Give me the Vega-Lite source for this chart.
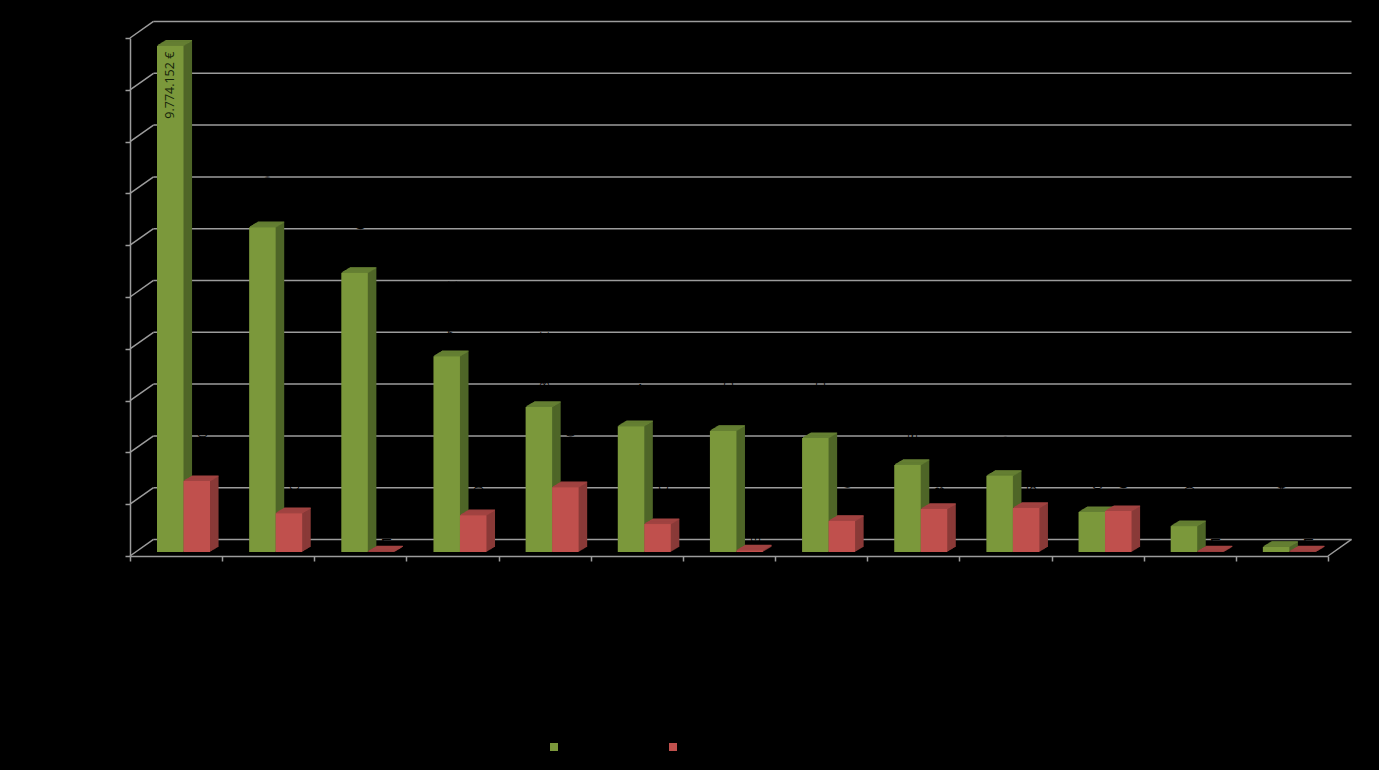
{
"$schema":"https://vega.github.io/schema/vega-lite/v6.json",
"width":1198,"height":518,
"autosize":{"type":"none"},
"padding":{"left":130,"top":38,"right":51,"bottom":214},
"background":"#000000",
"view":{"stroke":null},
"datasets":{
"bars":[
{"cat":1,"series":"Serie 1","value":9774152,"label":"9.774.152 €"},
{"cat":1,"series":"Serie 2","value":1370000,"label":"1.370.000 €"},
{"cat":2,"series":"Serie 1","value":6270000,"label":"6.270.000 €"},
{"cat":2,"series":"Serie 2","value":750000,"label":"750.000 €"},
{"cat":3,"series":"Serie 1","value":5390000,"label":"5.390.000 €"},
{"cat":3,"series":"Serie 2","value":10000,"label":"10.000 €"},
{"cat":4,"series":"Serie 1","value":3780000,"label":"3.780.000 €"},
{"cat":4,"series":"Serie 2","value":710000,"label":"710.000 €"},
{"cat":5,"series":"Serie 1","value":2800000,"label":"2.800.000 €"},
{"cat":5,"series":"Serie 2","value":1250000,"label":"1.250.000 €"},
{"cat":6,"series":"Serie 1","value":2430000,"label":"2.430.000 €"},
{"cat":6,"series":"Serie 2","value":540000,"label":"540.000 €"},
{"cat":7,"series":"Serie 1","value":2340000,"label":"2.340.000 €"},
{"cat":7,"series":"Serie 2","value":30000,"label":"30.000 €"},
{"cat":8,"series":"Serie 1","value":2200000,"label":"2.200.000 €"},
{"cat":8,"series":"Serie 2","value":600000,"label":"600.000 €"},
{"cat":9,"series":"Serie 1","value":1680000,"label":"1.680.000 €"},
{"cat":9,"series":"Serie 2","value":830000,"label":"830.000 €"},
{"cat":10,"series":"Serie 1","value":1470000,"label":"1.470.000 €"},
{"cat":10,"series":"Serie 2","value":850000,"label":"850.000 €"},
{"cat":11,"series":"Serie 1","value":770000,"label":"770.000 €"},
{"cat":11,"series":"Serie 2","value":790000,"label":"790.000 €"},
{"cat":12,"series":"Serie 1","value":500000,"label":"500.000 €"},
{"cat":12,"series":"Serie 2","value":10000,"label":"10.000 €"},
{"cat":13,"series":"Serie 1","value":100000,"label":"100.000 €"},
{"cat":13,"series":"Serie 2","value":10000,"label":"10.000 €"}
],
"ticks":[{"tick":0},{"tick":1000000},{"tick":2000000},{"tick":3000000},{"tick":4000000},{"tick":5000000},{"tick":6000000},{"tick":7000000},{"tick":8000000},{"tick":9000000},{"tick":10000000}]
},
"layer":[
{"data":{"name":"ticks"},"transform":[{"calculate":"datum.tick+319000","as":"back"},{"calculate":"0.255","as":"d"},{"calculate":"0","as":"z"}],
 "mark":{"type":"rule","color":"#9c9c9c","strokeWidth":1.5},
 "encoding":{"x":{"field":"z","type":"quantitative","scale":{"domain":[0,13],"nice":false},"axis":{"values":[0,1,2,3,4,5,6,7,8,9,10,11,12,13],"labels":false,"title":null,"orient":"bottom","grid":false,"tickSize":5,"domainColor":"#9c9c9c","tickColor":"#9c9c9c","domainWidth":1.5,"tickWidth":1.5}},"x2":{"field":"d"},"y":{"field":"tick","type":"quantitative","scale":{"domain":[0,10000000],"nice":false},"axis":{"values":[0,1000000,2000000,3000000,4000000,5000000,6000000,7000000,8000000,9000000,10000000],"grid":false,"labels":false,"title":null,"domainColor":"#9c9c9c","tickColor":"#9c9c9c","tickSize":5,"domainWidth":1.5,"tickWidth":1.5}},"y2":{"field":"back"}}},
{"data":{"name":"ticks"},"transform":[{"calculate":"datum.tick+319000","as":"back"},{"calculate":"0.255","as":"d"},{"calculate":"13.255","as":"e"}],
 "mark":{"type":"rule","color":"#9c9c9c","strokeWidth":1.5},
 "encoding":{"x":{"field":"d","type":"quantitative"},"x2":{"field":"e"},"y":{"field":"back","type":"quantitative"}}},
{"data":{"values":[{"a":13,"b":13.255,"c":0,"f":319000}]},
 "mark":{"type":"rule","color":"#9c9c9c","strokeWidth":1.5},
 "encoding":{"x":{"field":"a","type":"quantitative"},"x2":{"field":"b"},"y":{"field":"c","type":"quantitative"},"y2":{"field":"f"}}},
{"data":{"name":"bars"},
 "transform":[{"calculate":"datum.cat-1+0.293+(datum.series==='Serie 1'?0:0.2876)","as":"left"},{"calculate":"datum.left+0.2876","as":"right"},{"calculate":"datum.left+0.1438","as":"mid"}],
 "encoding":{"x":{"field":"left","type":"quantitative"},"x2":{"field":"right"},"y":{"field":"value","type":"quantitative"}},
 "layer":[
{"transform":[{"filter":"datum.label!=='9.774.152 €'"}],"mark":{"type":"text","angle":270,"align":"left","baseline":"middle","font":"Open Sans","fontSize":12.5,"color":"#000000","xOffset":6,"yOffset":-12},"encoding":{"x":{"field":"mid","type":"quantitative"},"x2":null,"text":{"field":"label"}}},
{"mark":{"type":"rect","xOffset":8.55,"x2Offset":8.55,"yOffset":-9.04,"y2Offset":-9.04},"encoding":{"y2":{"datum":0},"fill":{"condition":{"test":"datum.series==='Serie 1'","value":"#4f6628"},"value":"#8a3a38"}}},
{"mark":{"type":"rect","xOffset":8.55,"x2Offset":8.55,"yOffset":-9.04,"y2Offset":-9.04,"strokeWidth":1.2},"encoding":{"y2":{"field":"value"},"stroke":{"condition":{"test":"datum.series==='Serie 1'","value":"#647f33"},"value":"#a14341"}}},
{"mark":{"type":"rect","xOffset":7.6,"x2Offset":7.6,"yOffset":-8.48,"y2Offset":-8.48},"encoding":{"y2":{"datum":0},"fill":{"condition":{"test":"datum.series==='Serie 1'","value":"#4f6628"},"value":"#8a3a38"}}},
{"mark":{"type":"rect","xOffset":7.6,"x2Offset":7.6,"yOffset":-8.48,"y2Offset":-8.48,"strokeWidth":1.2},"encoding":{"y2":{"field":"value"},"stroke":{"condition":{"test":"datum.series==='Serie 1'","value":"#647f33"},"value":"#a14341"}}},
{"mark":{"type":"rect","xOffset":6.65,"x2Offset":6.65,"yOffset":-7.92,"y2Offset":-7.92},"encoding":{"y2":{"datum":0},"fill":{"condition":{"test":"datum.series==='Serie 1'","value":"#4f6628"},"value":"#8a3a38"}}},
{"mark":{"type":"rect","xOffset":6.65,"x2Offset":6.65,"yOffset":-7.92,"y2Offset":-7.92,"strokeWidth":1.2},"encoding":{"y2":{"field":"value"},"stroke":{"condition":{"test":"datum.series==='Serie 1'","value":"#647f33"},"value":"#a14341"}}},
{"mark":{"type":"rect","xOffset":5.7,"x2Offset":5.7,"yOffset":-7.36,"y2Offset":-7.36},"encoding":{"y2":{"datum":0},"fill":{"condition":{"test":"datum.series==='Serie 1'","value":"#4f6628"},"value":"#8a3a38"}}},
{"mark":{"type":"rect","xOffset":5.7,"x2Offset":5.7,"yOffset":-7.36,"y2Offset":-7.36,"strokeWidth":1.2},"encoding":{"y2":{"field":"value"},"stroke":{"condition":{"test":"datum.series==='Serie 1'","value":"#647f33"},"value":"#a14341"}}},
{"mark":{"type":"rect","xOffset":4.75,"x2Offset":4.75,"yOffset":-6.8,"y2Offset":-6.8},"encoding":{"y2":{"datum":0},"fill":{"condition":{"test":"datum.series==='Serie 1'","value":"#4f6628"},"value":"#8a3a38"}}},
{"mark":{"type":"rect","xOffset":4.75,"x2Offset":4.75,"yOffset":-6.8,"y2Offset":-6.8,"strokeWidth":1.2},"encoding":{"y2":{"field":"value"},"stroke":{"condition":{"test":"datum.series==='Serie 1'","value":"#647f33"},"value":"#a14341"}}},
{"mark":{"type":"rect","xOffset":3.8,"x2Offset":3.8,"yOffset":-6.24,"y2Offset":-6.24},"encoding":{"y2":{"datum":0},"fill":{"condition":{"test":"datum.series==='Serie 1'","value":"#4f6628"},"value":"#8a3a38"}}},
{"mark":{"type":"rect","xOffset":3.8,"x2Offset":3.8,"yOffset":-6.24,"y2Offset":-6.24,"strokeWidth":1.2},"encoding":{"y2":{"field":"value"},"stroke":{"condition":{"test":"datum.series==='Serie 1'","value":"#647f33"},"value":"#a14341"}}},
{"mark":{"type":"rect","xOffset":2.85,"x2Offset":2.85,"yOffset":-5.68,"y2Offset":-5.68},"encoding":{"y2":{"datum":0},"fill":{"condition":{"test":"datum.series==='Serie 1'","value":"#4f6628"},"value":"#8a3a38"}}},
{"mark":{"type":"rect","xOffset":2.85,"x2Offset":2.85,"yOffset":-5.68,"y2Offset":-5.68,"strokeWidth":1.2},"encoding":{"y2":{"field":"value"},"stroke":{"condition":{"test":"datum.series==='Serie 1'","value":"#647f33"},"value":"#a14341"}}},
{"mark":{"type":"rect","xOffset":1.9,"x2Offset":1.9,"yOffset":-5.12,"y2Offset":-5.12},"encoding":{"y2":{"datum":0},"fill":{"condition":{"test":"datum.series==='Serie 1'","value":"#4f6628"},"value":"#8a3a38"}}},
{"mark":{"type":"rect","xOffset":1.9,"x2Offset":1.9,"yOffset":-5.12,"y2Offset":-5.12,"strokeWidth":1.2},"encoding":{"y2":{"field":"value"},"stroke":{"condition":{"test":"datum.series==='Serie 1'","value":"#647f33"},"value":"#a14341"}}},
{"mark":{"type":"rect","xOffset":0.95,"x2Offset":0.95,"yOffset":-4.56,"y2Offset":-4.56},"encoding":{"y2":{"datum":0},"fill":{"condition":{"test":"datum.series==='Serie 1'","value":"#4f6628"},"value":"#8a3a38"}}},
{"mark":{"type":"rect","xOffset":0.95,"x2Offset":0.95,"yOffset":-4.56,"y2Offset":-4.56,"strokeWidth":1.2},"encoding":{"y2":{"field":"value"},"stroke":{"condition":{"test":"datum.series==='Serie 1'","value":"#647f33"},"value":"#a14341"}}},
{"mark":{"type":"rect","xOffset":0,"x2Offset":0,"yOffset":-4,"y2Offset":-4},"encoding":{"y2":{"datum":0},"color":{"field":"series","type":"nominal","scale":{"domain":["Serie 1","Serie 2"],"range":["#7b983b","#c0504d"]},"legend":{"orient":"none","legendX":419,"legendY":704,"direction":"horizontal","title":null,"symbolType":"square","symbolSize":64,"labelColor":"#000000","columnPadding":73}}}},
{"transform":[{"filter":"datum.label==='9.774.152 €'"}],"mark":{"type":"text","angle":270,"align":"right","baseline":"middle","font":"Open Sans","fontSize":12.5,"color":"#16240a","yOffset":2},"encoding":{"x":{"field":"mid","type":"quantitative"},"x2":null,"text":{"field":"label"}}}
]}
]
}
